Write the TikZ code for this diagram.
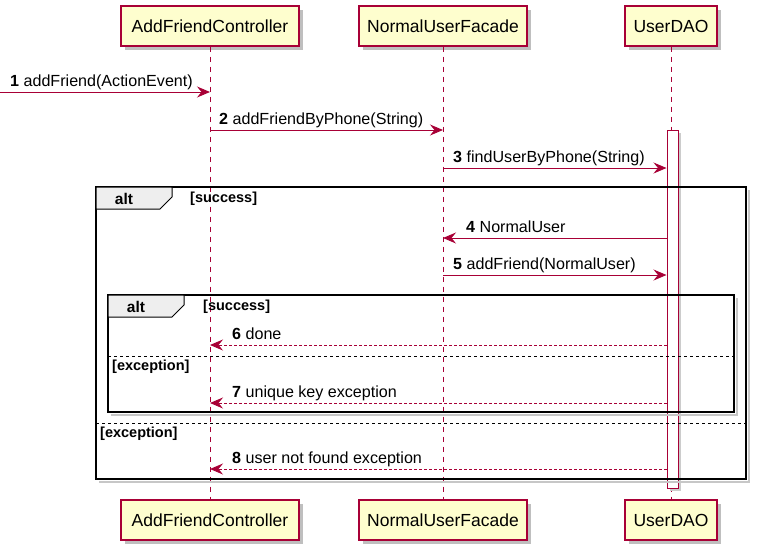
\documentclass[tikz,border=0pt]{standalone}
\usepackage{fontspec}
\setmainfont{Liberation Sans}
\usetikzlibrary{arrows.meta,shadows}
\definecolor{pred}{HTML}{A80036}
\definecolor{pfill}{HTML}{FEFECE}
\definecolor{tabfill}{HTML}{EEEEEE}
\begin{document}
\begin{tikzpicture}[x=1pt,y=-1pt,
  part/.style={draw=pred,fill=pfill,line width=1.3pt,minimum height=40pt,inner sep=0pt,
    font=\fontsize{17.5}{20}\selectfont,
    drop shadow={shadow xshift=4pt,shadow yshift=-4pt,opacity=0.25,fill=black}},
  life/.style={draw=pred,line width=0.9pt,dash pattern=on 5pt off 5pt},
  actbar/.style={draw=pred,fill=white,line width=1pt,inner sep=0pt,minimum width=11pt},
  msg/.style={draw=pred,line width=0.9pt,-{Stealth[length=13pt,width=11pt,inset=4.5pt]}},
  ret/.style={msg,dash pattern=on 3pt off 2pt},
  lbl/.style={anchor=base west,inner sep=0pt,font=\fontsize{16.1}{18}\selectfont},
  frm/.style={draw=black,line width=2pt},
  frmshadow/.style={draw=black!22,line width=2.5pt},
  tab/.style={draw=black,fill=tabfill,line width=1pt},
  alttxt/.style={inner sep=0pt,font=\fontsize{15.5}{18}\selectfont\bfseries},
  guard/.style={anchor=west,inner sep=0pt,font=\fontsize{14.5}{16}\selectfont\bfseries},
  sep/.style={draw=black,line width=0.8pt,dash pattern=on 3pt off 3pt}]
\useasboundingbox (0,0) rectangle (761,555);

% participants
\node[part,minimum width=178pt] (afcT) at (210,26) {AddFriendController};
\node[part,minimum width=168pt] (nufT) at (443,26) {NormalUserFacade};
\node[part,minimum width=92pt]  (daoT) at (671,26) {UserDAO};
\node[part,minimum width=178pt] (afcB) at (210,520) {AddFriendController};
\node[part,minimum width=168pt] (nufB) at (443,520) {NormalUserFacade};
\node[part,minimum width=92pt]  (daoB) at (671,520) {UserDAO};

% lifelines
\draw[life] (afcT) -- (afcB);
\draw[life] (nufT) -- (nufB);
\draw[life] (daoT) -- (daoB);

% activation
\fill[black!20] (670,133) rectangle (681,491);
\node[actbar,minimum height=358pt] (act) at (672.5,309) {};

% outer frame
\draw[frmshadow] (749,190) -- (749,482) -- (99,482);
\draw[frm] (96,187) rectangle (746,479);
\filldraw[tab] (96,187) -- (172,187) -- (172,197) -- (160,209) -- (96,209) -- cycle;
\node[alttxt] (alt1) at (124,199) {alt};
\node[guard] (g1) at (190,199) {[success]};
\draw[sep] (96,423) -- (746,423);
\node[guard] (g2) at (100,434) {[exception]};

% inner frame
\draw[frmshadow] (737,298) -- (737,415) -- (111,415);
\draw[frm] (108,295) rectangle (734,412);
\filldraw[tab] (108,295) -- (184,295) -- (184,305) -- (172,317) -- (108,317) -- cycle;
\node[alttxt] (alt2) at (136,307) {alt};
\node[guard] (g3) at (203,307) {[success]};
\draw[sep] (108,356) -- (734,356);
\node[guard] (g4) at (112,367) {[exception]};

% message endpoints
\coordinate (m1s) at (0,92);
\coordinate (m1e) at (afcT.south |- 0,92);
\coordinate (m2s) at (afcT.south |- 0,130);
\coordinate (m2e) at (nufT.south |- 0,130);
\coordinate (m3s) at (nufT.south |- 0,168);
\coordinate (m3e) at (act.west |- 0,168);
\coordinate (m4s) at (act.west |- 0,238);
\coordinate (m4e) at (nufT.south |- 0,238);
\coordinate (m5s) at (nufT.south |- 0,275);
\coordinate (m5e) at (act.west |- 0,275);
\coordinate (m6s) at (act.west |- 0,345);
\coordinate (m6e) at (afcT.south |- 0,345);
\coordinate (m7s) at (act.west |- 0,403);
\coordinate (m7e) at (afcT.south |- 0,403);
\coordinate (m8s) at (act.west |- 0,469);
\coordinate (m8e) at (afcT.south |- 0,469);

% messages
\draw[msg] (m1s) -- (m1e);
\draw[msg] (m2s) -- (m2e);
\draw[msg] (m3s) -- (m3e);
\draw[msg] (m4s) -- (m4e);
\draw[msg] (m5s) -- (m5e);
\draw[ret] (m6s) -- (m6e);
\draw[ret] (m7s) -- (m7e);
\draw[ret] (m8s) -- (m8e);

% labels
\node[lbl] (l1) at (10,86) {\textbf{1} addFriend(ActionEvent)};
\node[lbl] (l2) at (219,124) {\textbf{2} addFriendByPhone(String)};
\node[lbl] (l3) at (453,162) {\textbf{3} findUserByPhone(String)};
\node[lbl] (l4) at (466,232) {\textbf{4} NormalUser};
\node[lbl] (l5) at (453,269) {\textbf{5} addFriend(NormalUser)};
\node[lbl] (l6) at (232,339) {\textbf{6} done};
\node[lbl] (l7) at (232,397) {\textbf{7} unique key exception};
\node[lbl] (l8) at (232,463) {\textbf{8} user not found exception};
\end{tikzpicture}
\end{document}
